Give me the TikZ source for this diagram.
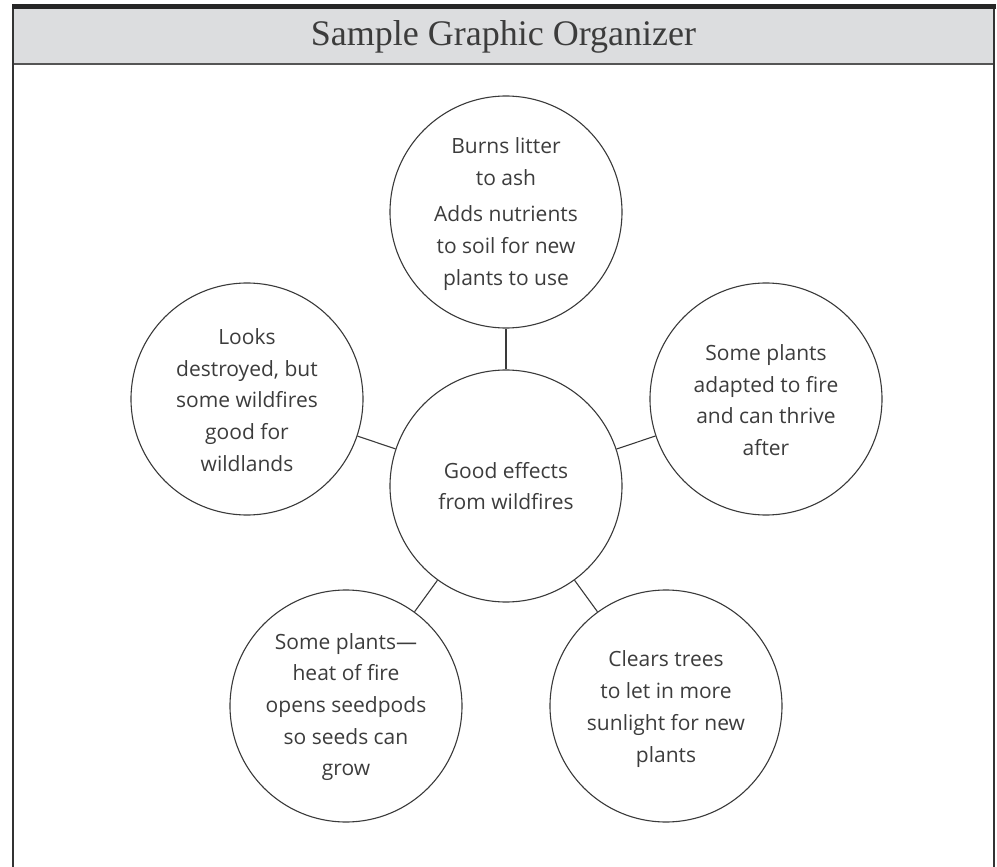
\documentclass[tikz,border=0pt]{standalone}
\usepackage{fontspec}
\setmainfont{Open Sans}
\newfontfamily\titlefont{Liberation Serif}
\definecolor{bandgray}{HTML}{DCDDDF}
\definecolor{framegray}{HTML}{333333}
\definecolor{rulegray}{HTML}{555555}
\definecolor{linegray}{HTML}{3A3A3A}
\definecolor{textgray}{HTML}{3C3C3C}
\tikzset{
  bub/.style={circle, draw=linegray, line width=1.1pt, minimum size=232pt, inner sep=0pt},
  txt/.style={align=center, text=textgray, font=\fontsize{21}{31.7}\selectfont},
  link/.style={draw=linegray, line width=1.1pt},
}
\begin{document}
\begin{tikzpicture}[x=1pt,y=-1pt]
\useasboundingbox (0,0) rectangle (997,867);
% header band
\fill[bandgray] (13,9) rectangle (994,64);
\draw[line width=5pt, black!85] (12,6.5) -- (996,6.5);
\draw[line width=2pt, rulegray] (13,64) -- (994,64);
\draw[line width=2pt, framegray] (13,9) -- (13,867);
\draw[line width=2pt, framegray] (994,9) -- (994,867);
\node[text=textgray, font=\titlefont\fontsize{36}{40}\selectfont] (title) at (503.5,37) {Sample Graphic Organizer};
% circles
\node[bub] (c) at (506,486) {};
\node[bub] (t) at (506,212) {};
\node[bub] (l) at (247,399) {};
\node[bub] (r) at (766,399) {};
\node[bub] (bl) at (346,706) {};
\node[bub] (br) at (666,706) {};
% connectors
\draw[link] (c) -- (t);
\draw[link] (c) -- (l);
\draw[link] (c) -- (r);
\draw[link] (c) -- (bl);
\draw[link] (c) -- (br);
% texts
\node[txt] (ct) at (c) {Good effects\\from wildfires};
\node[txt] (tt) at (506,214) {Burns litter\\to ash\\[5pt]Adds nutrients\\to soil for new\\plants to use};
\node[txt] (lt) at (247,400) {Looks\\destroyed, but\\some wildfires\\good for\\wildlands};
\node[txt] (rt) at (766,400) {Some plants\\adapted to fire\\and can thrive\\after};
\node[txt] (blt) at (346,707) {Some plants---\\heat of fire\\opens seedpods\\so seeds can\\grow};
\node[txt] (brt) at (666,709) {Clears trees\\to let in more\\sunlight for new\\plants};
\end{tikzpicture}
\end{document}
